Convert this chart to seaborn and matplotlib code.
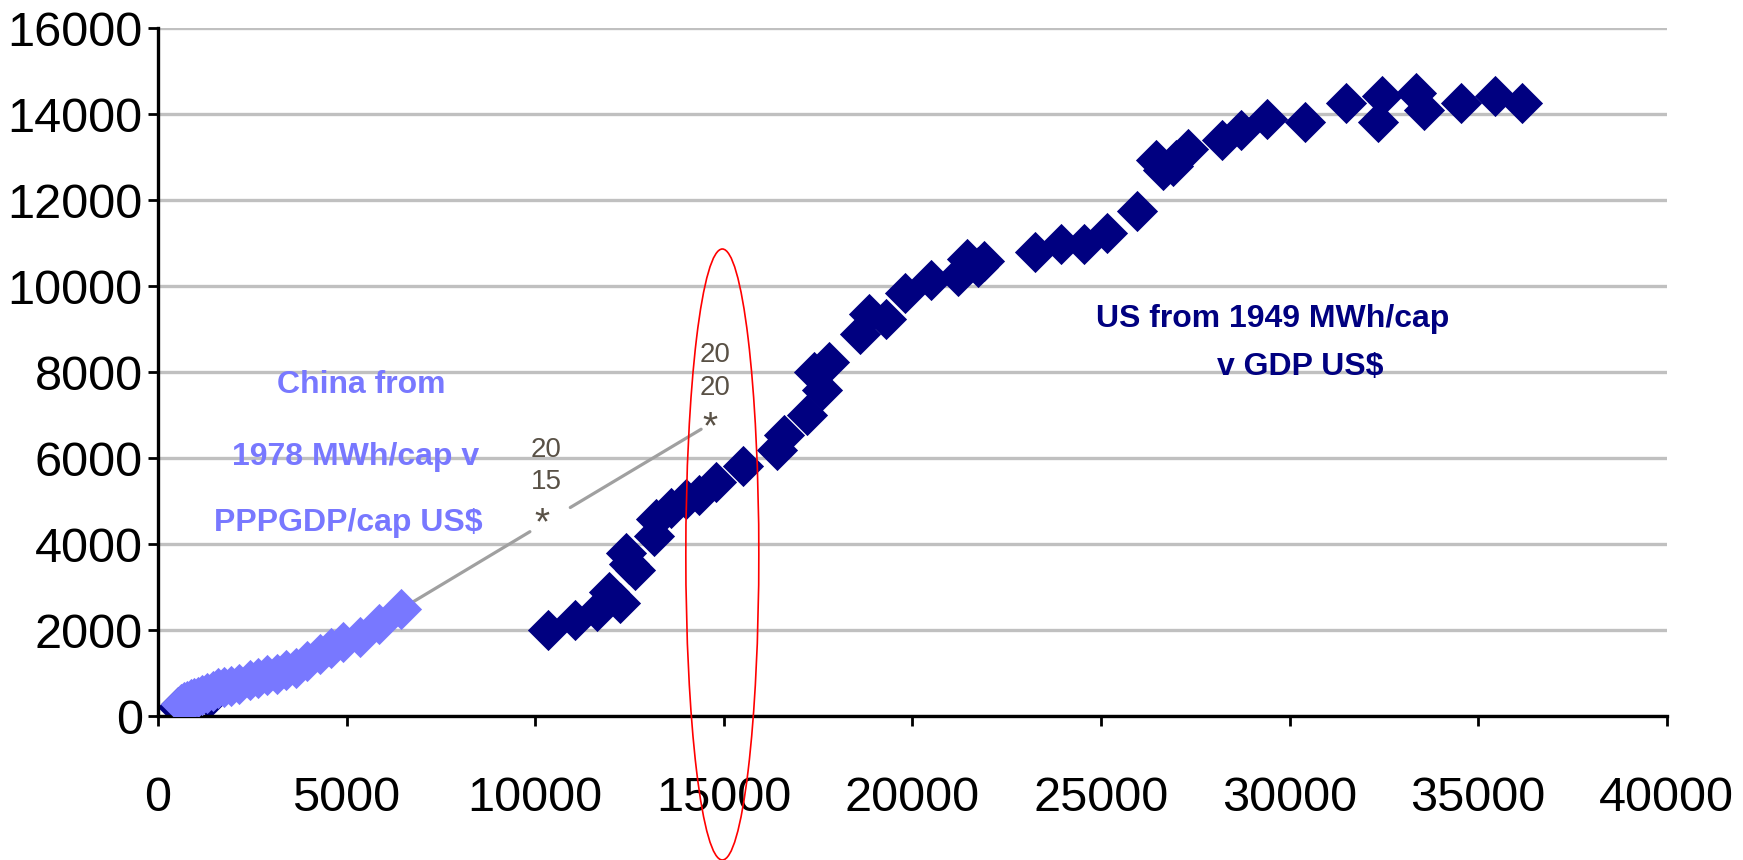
import matplotlib
matplotlib.use("Agg")
import matplotlib.pyplot as plt
import seaborn as sns
import pandas as pd
from matplotlib.patches import Ellipse
from matplotlib import font_manager

# ---------------- data ----------------
us_x = [10350, 11050, 11650, 11950, 12250, 12650, 12400, 12500, 13150, 13200,
        13600, 14000, 14350, 14800, 15500, 16400, 16600, 17200, 17400, 17600,
        17800, 18600, 18850, 19300, 19800, 20500, 21200, 21450, 21900, 21750,
        23250, 23950, 24550, 25150, 25950, 26450, 26650, 26900, 27000, 27300,
        28200, 28700, 29400, 30400, 31500, 32450, 32350, 33350, 33550, 34550,
        35450, 36150]
us_y = [2000, 2250, 2450, 2900, 2650, 3400, 3800, 3550, 4200, 4600,
        4850, 5050, 5150, 5450, 5830, 6200, 6550, 7000, 8000, 7600,
        8250, 8900, 9350, 9250, 9850, 10150, 10250, 10650, 10600, 10450,
        10800, 10980, 10980, 11250, 11750, 12950, 12700, 12800, 12950, 13200,
        13400, 13650, 13900, 13830, 14260, 14420, 13830, 14500, 14100, 14260,
        14430, 14260]

china_x = [620, 700, 780, 870, 960, 1060, 1170, 1300, 1450, 1600, 1750, 1950,
           2150, 2450, 2650, 2900, 3150, 3400, 3650, 3950, 4300, 4600, 4900,
           5350, 5850, 6450]
china_y = [300, 330, 360, 400, 430, 460, 490, 540, 600, 660, 690, 700,
           760, 850, 900, 960, 990, 1090, 1130, 1280, 1450, 1600, 1730,
           1850, 2150, 2500]

early_x = [520, 700, 900, 1350]
early_y = [230, 260, 290, 420]

proj_x = [6450, 10170, 14400]
proj_y = [2500, 4460, 6680]

x_ticks = [0, 5000, 10000, 15000, 20000, 25000, 30000, 35000, 40000]
y_ticks = [0, 2000, 4000, 6000, 8000, 10000, 12000, 14000, 16000]

# ---------------- style ----------------
sns.set_style("white")
names = {f.name for f in font_manager.fontManager.ttflist}
narrow = 'Liberation Sans Narrow' if 'Liberation Sans Narrow' in names else 'Liberation Sans'
plt.rcParams['font.family'] = ['Liberation Sans', 'DejaVu Sans']

NAVY = '#000080'
LIGHT = '#7878FF'
STAR = '#595146'
MS = 440

fig = plt.figure(figsize=(17.43, 8.6), dpi=100)
ax = fig.add_axes([0.0906, 0.1669, 0.8657, 0.8])

ax.set_xlim(0, 40000)
ax.set_ylim(0, 16000)
ax.set_xticks(x_ticks)
ax.set_yticks(y_ticks)
xfs = 40 if narrow != 'Liberation Sans' else 35
ax.set_xticklabels([str(v) for v in x_ticks], fontsize=xfs, family=[narrow, 'Liberation Sans'], color='black')
ax.set_yticklabels([str(v) for v in y_ticks], fontsize=35, color='black')
ax.yaxis.grid(True, color='#C0C0C0', lw=2.4)
ax.xaxis.grid(False)
ax.set_axisbelow(True)

for s in ['top', 'right']:
    ax.spines[s].set_visible(False)
for s in ['left', 'bottom']:
    ax.spines[s].set_linewidth(2.4)
    ax.spines[s].set_color('black')
ax.tick_params(axis='both', direction='out', length=7, width=2, color='black')
ax.tick_params(axis='y', pad=4, left=True)
ax.tick_params(axis='x', pad=36, bottom=True)

# projection line, broken around the 2015 star
p0 = (proj_x[0], proj_y[0]); p1 = (proj_x[1], proj_y[1]); p2 = (proj_x[2], proj_y[2])
a = 0.083
b = 0.18
seg1_end = (p1[0] - a * (p1[0] - p0[0]), p1[1] - a * (p1[1] - p0[1]))
seg2_start = (p1[0] + b * (p2[0] - p1[0]), p1[1] + b * (p2[1] - p1[1]))
ax.plot([p0[0], seg1_end[0]], [p0[1], seg1_end[1]], color='#A0A0A0', lw=2.3, zorder=1.5)
ax.plot([seg2_start[0], p2[0]], [seg2_start[1], p2[1]], color='#A0A0A0', lw=2.3, zorder=1.5)

sns.scatterplot(x=early_x, y=early_y, marker='D', s=MS, color=NAVY,
                linewidth=0, ax=ax, zorder=2, legend=False)
sns.scatterplot(x=china_x, y=china_y, marker='D', s=MS, color=LIGHT,
                linewidth=0, ax=ax, zorder=3, legend=False)
sns.scatterplot(x=us_x, y=us_y, marker='D', s=MS, color=NAVY,
                linewidth=0, ax=ax, zorder=3, legend=False)

# ---------------- annotations ----------------
tfam = [narrow, 'Liberation Sans']
tfs = 25 if narrow != 'Liberation Sans' else 23
ax.text(5400, 7720, 'China from', color=LIGHT, fontsize=tfs, fontweight='bold',
        family=tfam, ha='center', va='center')
ax.text(5240, 6040, '1978 MWh/cap v', color=LIGHT, fontsize=tfs, fontweight='bold',
        family=tfam, ha='center', va='center')
ax.text(5040, 4510, 'PPPGDP/cap US$', color=LIGHT, fontsize=tfs, fontweight='bold',
        family=tfam, ha='center', va='center')
ax.text(29545, 9244, 'US from 1949 MWh/cap', color=NAVY, fontsize=tfs, fontweight='bold',
        family=tfam, ha='center', va='center')
ax.text(30284, 8133, 'v GDP US$', color=NAVY, fontsize=tfs, fontweight='bold',
        family=tfam, ha='center', va='center')

ax.text(10300, 6186, '20', color=STAR, fontsize=20, ha='center', va='center')
ax.text(10300, 5442, '15', color=STAR, fontsize=20, ha='center', va='center')
ax.text(10170, 4460, '*', color=STAR, fontsize=28, ha='center', va='center')
ax.text(14763, 8395, '20', color=STAR, fontsize=20, ha='center', va='center')
ax.text(14763, 7640, '20', color=STAR, fontsize=20, ha='center', va='center')
ax.text(14630, 6700, '*', color=STAR, fontsize=28, ha='center', va='center')

ell = Ellipse((14962, 3767), width=1935, height=14209, fill=False,
              edgecolor='red', lw=1.2, clip_on=False, zorder=5)
ax.add_patch(ell)

fig.savefig('out.png', dpi=100)
